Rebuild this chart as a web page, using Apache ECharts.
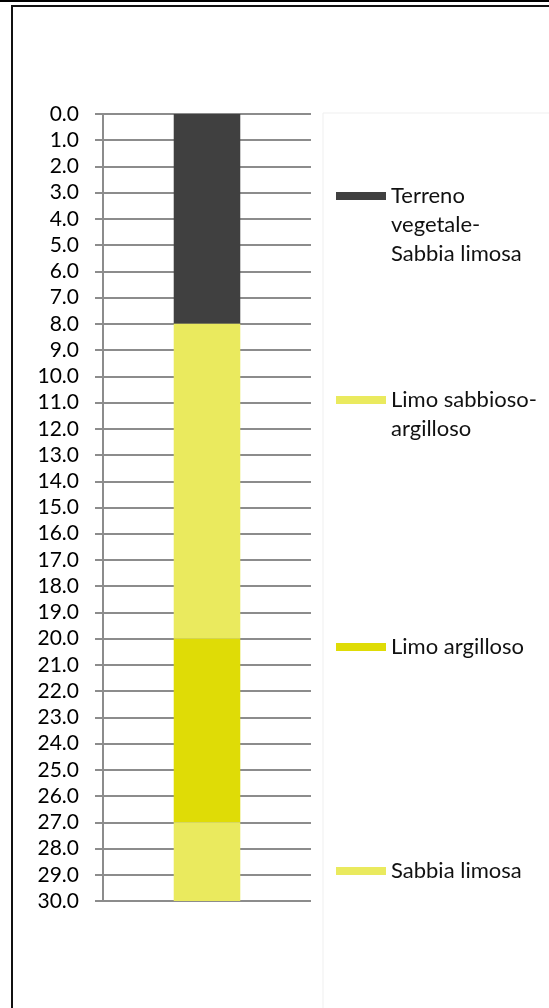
<!DOCTYPE html>
<html>
<head>
<meta charset="utf-8">
<script src="https://cdn.jsdelivr.net/npm/echarts@6/dist/echarts.min.js"></script>
<style>
  html, body { margin: 0; padding: 0; background: #fff; }
  #main { width: 549px; height: 1008px; }
</style>
</head>
<body>
<div id="main"></div>
<script>
// strati (spessore in m, dall'alto verso il basso)
var layerNames = ['Terreno vegetale-Sabbia limosa', 'Limo sabbioso-argilloso', 'Limo argilloso', 'Sabbia limosa'];
var layerThickness = [8, 12, 7, 3];
var layerColors = ['#404040', '#EAEA5E', '#DFDC06', '#EAEA5E'];
var legendLabels = ['Terreno\nvegetale-\nSabbia limosa', 'Limo sabbioso-\nargilloso', 'Limo argilloso', 'Sabbia limosa'];
var categories = ['S1'];
var depthMin = 0, depthMax = 30, depthStep = 1;

var chart = echarts.init(document.getElementById('main'));
var font = 'Lato';
var L = 29; // interlinea legenda
var legendCenters = [196, 400, 647, 871]; // y del simbolo

var series = layerNames.map(function (n, i) {
  return {
    name: n,
    type: 'bar',
    stack: 'strati',
    barWidth: '32%',
    itemStyle: { color: layerColors[i] },
    data: [layerThickness[i]]
  };
});

var legends = layerNames.map(function (n, i) {
  var nLines = legendLabels[i].split('\n').length;
  // righe vuote davanti: il simbolo resta allineato alla prima riga
  var txt = new Array(nLines).join(' \n') + legendLabels[i];
  return {
    data: [n],
    left: 336,
    top: legendCenters[i] - (2 * nLines - 1) * L / 2,
    padding: 0,
    icon: 'rect',
    itemWidth: 50,
    itemHeight: 8,
    itemGap: 0,
    selectedMode: false,
    formatter: function () { return txt; },
    textStyle: { fontFamily: font, fontSize: 22, color: '#111', lineHeight: L }
  };
});

chart.setOption({
  animation: false,
  backgroundColor: '#fff',
  graphic: [
    { type: 'rect', shape: { x: 0, y: 0, width: 549, height: 2 }, style: { fill: '#000' } },
    { type: 'rect', shape: { x: 11, y: 5, width: 538, height: 2 }, style: { fill: '#111' } },
    { type: 'rect', shape: { x: 11, y: 5, width: 2, height: 1003 }, style: { fill: '#111' } },
    { type: 'rect', shape: { x: 323, y: 113, width: 230, height: 900 }, style: { fill: '#fff', stroke: '#efefef', lineWidth: 1 } }
  ],
  grid: { left: 103, right: 238, top: 114, bottom: 107 },
  legend: legends,
  xAxis: {
    type: 'category',
    data: categories,
    axisLine: { show: false },
    axisTick: { show: false },
    axisLabel: { show: false }
  },
  yAxis: {
    type: 'value',
    inverse: true,
    min: depthMin,
    max: depthMax,
    interval: depthStep,
    axisLine: { show: true, lineStyle: { color: '#8c8c8c', width: 2 } },
    axisTick: { show: true, inside: false, length: 8, lineStyle: { color: '#8c8c8c', width: 2 } },
    splitLine: { show: true, lineStyle: { color: '#8c8c8c', width: 2 } },
    axisLabel: {
      margin: 24,
      fontFamily: font,
      fontSize: 21,
      color: '#000',
      formatter: function (v) { return v.toFixed(1); }
    }
  },
  series: series
});
</script>
</body>
</html>
